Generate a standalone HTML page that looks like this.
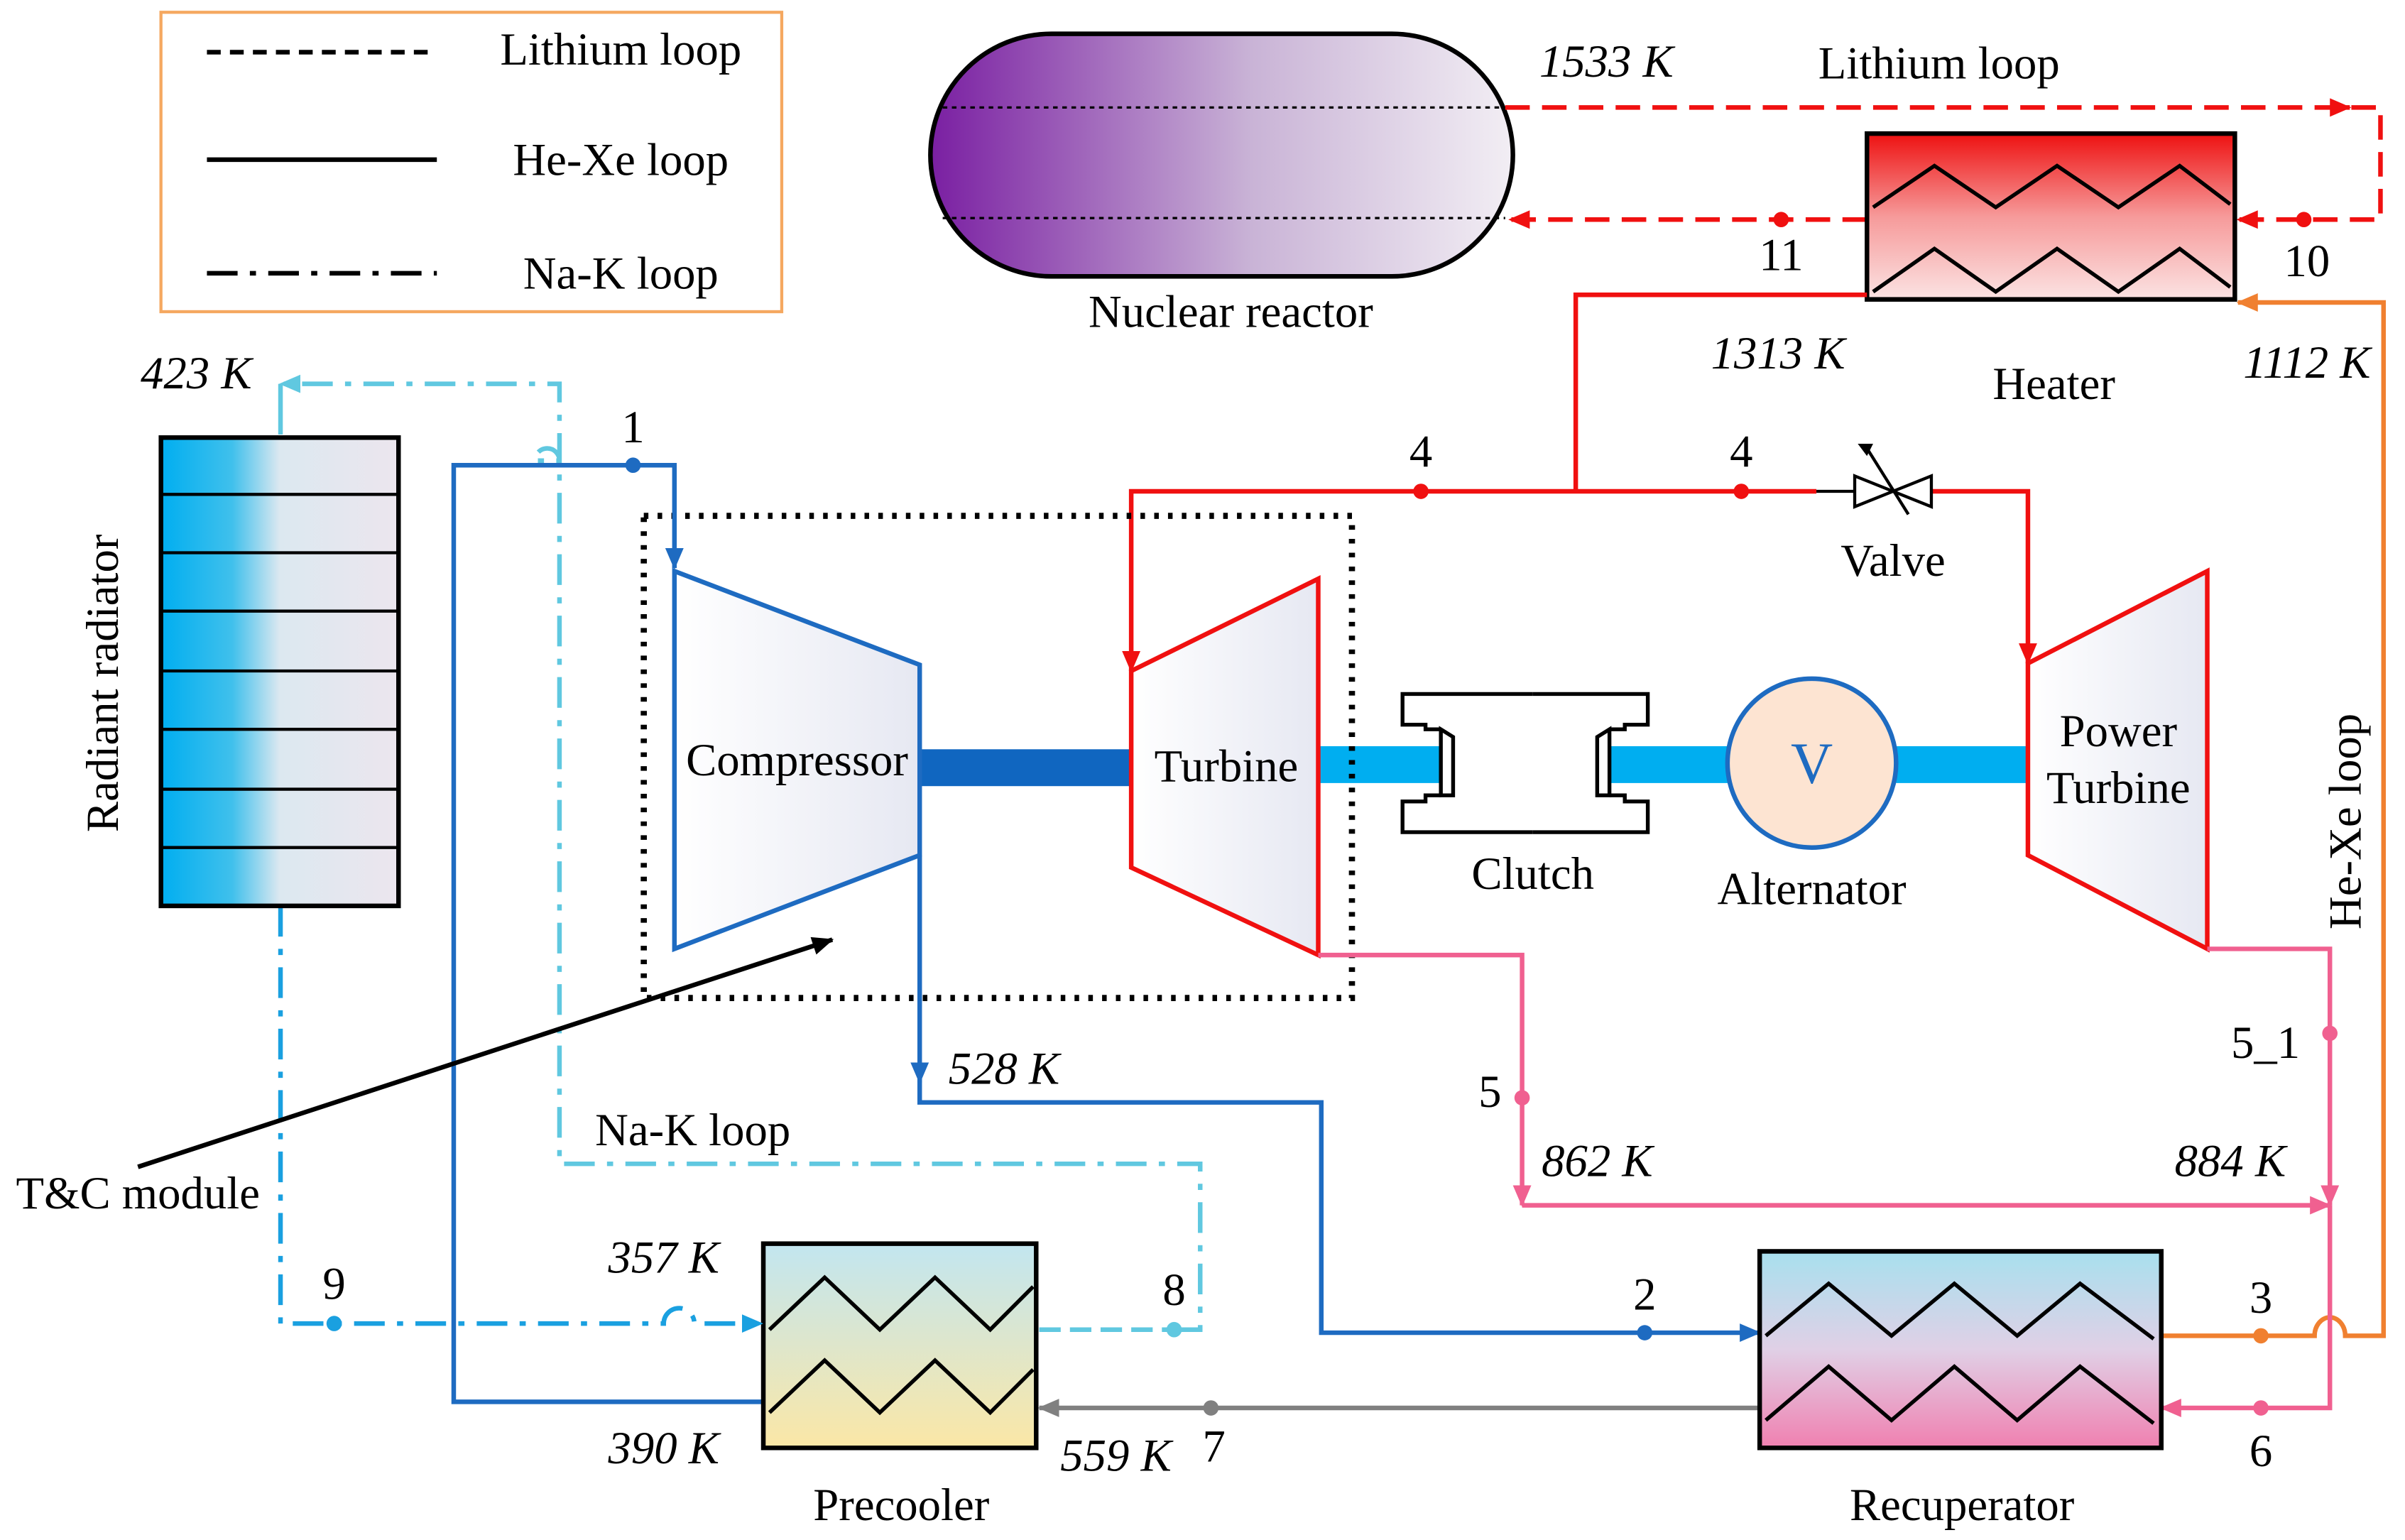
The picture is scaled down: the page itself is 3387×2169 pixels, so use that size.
<!DOCTYPE html>
<html><head><meta charset="utf-8"><style>html,body{margin:0;padding:0;background:#fff}svg{display:block}text{font-family:"Liberation Serif",serif;font-size:30px;fill:#000}.i{font-style:italic}</style></head><body>
<svg width="3387" height="2169" viewBox="0 0 1569 1003" preserveAspectRatio="none" xmlns="http://www.w3.org/2000/svg">
<defs>
<linearGradient id="rx" x1="0" x2="1"><stop offset="0" stop-color="#7a1fa2"/><stop offset="0.55" stop-color="#c9b3d6"/><stop offset="1" stop-color="#f2eef4"/></linearGradient>
<linearGradient id="ht" x1="0" y1="0" x2="0" y2="1"><stop offset="0" stop-color="#ee1111"/><stop offset="0.5" stop-color="#f69a9a"/><stop offset="1" stop-color="#fbe3e3"/></linearGradient>
<linearGradient id="pc" x1="0" y1="0" x2="0" y2="1"><stop offset="0" stop-color="#c2e6f0"/><stop offset="1" stop-color="#fbe7a6"/></linearGradient>
<linearGradient id="rc" x1="0" y1="0" x2="0" y2="1"><stop offset="0" stop-color="#a8e0ee"/><stop offset="0.5" stop-color="#e0d0e6"/><stop offset="1" stop-color="#f080b0"/></linearGradient>
<linearGradient id="rd" x1="0" x2="1"><stop offset="0" stop-color="#00aef0"/><stop offset="0.3" stop-color="#40c0ec"/><stop offset="0.5" stop-color="#dce8f0"/><stop offset="1" stop-color="#ece6ee"/></linearGradient>
<linearGradient id="tb" x1="0" x2="1"><stop offset="0" stop-color="#fff"/><stop offset="1" stop-color="#e6e8f2"/></linearGradient>
<marker id="aB" markerWidth="14" markerHeight="14" refX="13" refY="7" orient="auto" markerUnits="userSpaceOnUse" viewBox="0 0 14 14"><path d="M0,1L14,7L0,13z" fill="#1e6bc1"/></marker>
<marker id="aP" markerWidth="14" markerHeight="14" refX="13" refY="7" orient="auto" markerUnits="userSpaceOnUse" viewBox="0 0 14 14"><path d="M0,1L14,7L0,13z" fill="#f06090"/></marker>
<marker id="aO" markerWidth="14" markerHeight="14" refX="13" refY="7" orient="auto" markerUnits="userSpaceOnUse" viewBox="0 0 14 14"><path d="M0,1L14,7L0,13z" fill="#f08030"/></marker>
<marker id="aG" markerWidth="14" markerHeight="14" refX="13" refY="7" orient="auto" markerUnits="userSpaceOnUse" viewBox="0 0 14 14"><path d="M0,1L14,7L0,13z" fill="#808080"/></marker>
<marker id="aL" markerWidth="14" markerHeight="14" refX="13" refY="7" orient="auto" markerUnits="userSpaceOnUse" viewBox="0 0 14 14"><path d="M0,1L14,7L0,13z" fill="#1aa0e0"/></marker>
<marker id="aC" markerWidth="14" markerHeight="14" refX="13" refY="7" orient="auto" markerUnits="userSpaceOnUse" viewBox="0 0 14 14"><path d="M0,1L14,7L0,13z" fill="#60c8e0"/></marker>
<marker id="aK" markerWidth="14" markerHeight="14" refX="13" refY="7" orient="auto" markerUnits="userSpaceOnUse" viewBox="0 0 14 14"><path d="M0,1L14,7L0,13z" fill="#000"/></marker>
<marker id="aRR" markerWidth="14" markerHeight="14" refX="13" refY="7" orient="auto" markerUnits="userSpaceOnUse" viewBox="0 0 14 14"><path d="M0,1L14,7L0,13z" fill="#f01010"/></marker>
</defs>
<rect x="105" y="8" width="405" height="195" fill="none" stroke="#f5a860" stroke-width="2"/>
<line x1="135" y1="34" x2="285" y2="34" stroke="#000" stroke-width="3" stroke-dasharray="9,6"/>
<line x1="135" y1="104" x2="285" y2="104" stroke="#000" stroke-width="3"/>
<line x1="135" y1="178" x2="285" y2="178" stroke="#000" stroke-width="3" stroke-dasharray="20,8,4,8"/>
<text x="405" y="42" text-anchor="middle">Lithium loop</text>
<text x="405" y="114" text-anchor="middle">He-Xe loop</text>
<text x="405" y="188" text-anchor="middle">Na-K loop</text>
<rect x="607" y="22" width="380" height="158" rx="79" fill="url(#rx)" stroke="#000" stroke-width="3"/>
<line x1="615" y1="70" x2="982" y2="70" stroke="#000" stroke-width="1.5" stroke-dasharray="3,3"/>
<line x1="615" y1="142" x2="982" y2="142" stroke="#000" stroke-width="1.5" stroke-dasharray="3,3"/>
<text x="803" y="213" text-anchor="middle">Nuclear reactor</text>
<text x="1048" y="50" text-anchor="middle" class="i">1533 K</text>
<text x="1265" y="51" text-anchor="middle">Lithium loop</text>
<path d="M982,70 H1553 V143 H1460" fill="none" stroke="#f01010" stroke-width="3" stroke-dasharray="16,8" marker-end="url(#aRR)"/>
<path d="M1520,70 H1533" stroke="#f01010" stroke-width="3" marker-end="url(#aRR)"/>
<path d="M1218,143 H985" fill="none" stroke="#f01010" stroke-width="3" stroke-dasharray="16,8" marker-end="url(#aRR)"/>
<circle cx="1503" cy="143" r="5" fill="#f01010"/><circle cx="1162" cy="143" r="5" fill="#f01010"/>
<text x="1162" y="176" text-anchor="middle">11</text><text x="1505" y="180" text-anchor="middle">10</text>
<rect x="1218" y="87" width="240" height="108" fill="url(#ht)" stroke="#000" stroke-width="3"/>
<path d="M1222,135 L1262,108 L1302,135 L1342,108 L1382,135 L1422,108 L1455,133" fill="none" stroke="#000" stroke-width="2.5"/>
<path d="M1222,190 L1262,162 L1302,190 L1342,162 L1382,190 L1422,162 L1455,187" fill="none" stroke="#000" stroke-width="2.5"/>
<text x="1340" y="260" text-anchor="middle">Heater</text>
<text x="1160" y="240" text-anchor="middle" class="i">1313 K</text>
<text x="1505" y="246" text-anchor="middle" class="i">1112 K</text>
<path d="M1410,870 H1510 a10,12 0 0 1 20,0 H1555 V197 H1460" fill="none" stroke="#f08030" stroke-width="3" marker-end="url(#aO)"/>
<circle cx="1475" cy="870" r="5" fill="#f08030"/><text x="1475" y="855" text-anchor="middle">3</text>
<path d="M1218,192 H1028 V320" fill="none" stroke="#f01010" stroke-width="3"/>
<path d="M1185,320 H738 V437" fill="none" stroke="#f01010" stroke-width="3" marker-end="url(#aRR)"/>
<path d="M1260,320 H1323 V432" fill="none" stroke="#f01010" stroke-width="3" marker-end="url(#aRR)"/>
<circle cx="927" cy="320" r="5" fill="#f01010"/><circle cx="1136" cy="320" r="5" fill="#f01010"/>
<text x="927" y="304" text-anchor="middle">4</text><text x="1136" y="304" text-anchor="middle">4</text>
<path d="M1210,310 L1260,330 L1260,310 L1210,330 Z" fill="#fff" stroke="#000" stroke-width="2"/>
<line x1="1185" y1="320" x2="1210" y2="320" stroke="#000" stroke-width="2"/>
<line x1="1218" y1="292" x2="1245" y2="335" stroke="#000" stroke-width="2"/><path d="M1212,289 l10,0 l-4,8z" fill="#000"/>
<text x="1235" y="375" text-anchor="middle">Valve</text>
<rect x="600" y="488" width="138" height="24" fill="#1066c0"/>
<rect x="860" y="486" width="88" height="24" fill="#00aef0"/>
<rect x="1042" y="486" width="88" height="24" fill="#00aef0"/>
<rect x="1237" y="486" width="86" height="24" fill="#00aef0"/>
<polygon points="440,372 600,433 600,557 440,618" fill="url(#tb)" stroke="#1e6bc1" stroke-width="3"/>
<text x="520" y="505" text-anchor="middle">Compressor</text>
<polygon points="738,437 860,377 860,622 738,565" fill="url(#tb)" stroke="#f01010" stroke-width="3"/>
<text x="800" y="509" text-anchor="middle">Turbine</text>
<polygon points="1323,432 1440,372 1440,618 1323,557" fill="url(#tb)" stroke="#f01010" stroke-width="3"/>
<text x="1382" y="486" text-anchor="middle">Power</text><text x="1382" y="523" text-anchor="middle">Turbine</text>
<path d="M948,480 V518 H940 V475 Z" fill="#fff" stroke="#000" stroke-width="2.5"/>
<path d="M1042,480 V518 H1050 V475 Z" fill="#fff" stroke="#000" stroke-width="2.5"/>
<path d="M940,475 H930 V472 H915 V452 H1000" fill="none" stroke="#000" stroke-width="2.5"/>
<path d="M940,518 H930 V522 H915 V542 H1000" fill="none" stroke="#000" stroke-width="2.5"/>
<path d="M1050,475 H1060 V472 H1075 V452 H1000" fill="none" stroke="#000" stroke-width="2.5"/>
<path d="M1050,518 H1060 V522 H1075 V542 H1000" fill="none" stroke="#000" stroke-width="2.5"/>
<text x="1000" y="579" text-anchor="middle">Clutch</text>
<circle cx="1182" cy="497" r="55" fill="#fde4d2" stroke="#1e6bc1" stroke-width="3"/>
<text x="1182" y="510" text-anchor="middle" style="font-size:38px;fill:#1e6bc1">V</text>
<text x="1182" y="589" text-anchor="middle">Alternator</text>
<rect x="420" y="336" width="462" height="314" fill="none" stroke="#000" stroke-width="4" stroke-dasharray="3,6"/>
<path d="M860,622 H993 V785" fill="none" stroke="#f06090" stroke-width="3" marker-end="url(#aP)"/>
<path d="M1440,618 H1520 V785" fill="none" stroke="#f06090" stroke-width="3" marker-end="url(#aP)"/>
<path d="M993,785 H1520" fill="none" stroke="#f06090" stroke-width="3" marker-end="url(#aP)"/>
<path d="M1520,785 V917 H1410" fill="none" stroke="#f06090" stroke-width="3" marker-end="url(#aP)"/>
<circle cx="993" cy="715" r="5" fill="#f06090"/><circle cx="1520" cy="673" r="5" fill="#f06090"/><circle cx="1475" cy="917" r="5" fill="#f06090"/>
<text x="972" y="721" text-anchor="middle">5</text><text x="1478" y="689" text-anchor="middle">5_1</text><text x="1475" y="955" text-anchor="middle">6</text>
<text x="1042" y="766" text-anchor="middle" class="i">862 K</text><text x="1455" y="766" text-anchor="middle" class="i">884 K</text>
<path d="M600,557 V705" fill="none" stroke="#1e6bc1" stroke-width="3" marker-end="url(#aB)"/>
<path d="M600,700 V718 H862 V868 H1148" fill="none" stroke="#1e6bc1" stroke-width="3" marker-end="url(#aB)"/>
<circle cx="1073" cy="868" r="5" fill="#1e6bc1"/><text x="1073" y="853" text-anchor="middle">2</text>
<text x="655" y="706" text-anchor="middle" class="i">528 K</text>
<path d="M497,913 H296 V303 H440 V370" fill="none" stroke="#1e6bc1" stroke-width="3" marker-end="url(#aB)"/>
<circle cx="413" cy="303" r="5" fill="#1e6bc1"/><text x="413" y="288" text-anchor="middle">1</text>
<path d="M1148,917 H678" fill="none" stroke="#808080" stroke-width="3" marker-end="url(#aG)"/>
<circle cx="790" cy="917" r="5" fill="#808080"/><text x="792" y="952" text-anchor="middle">7</text>
<text x="728" y="958" text-anchor="middle" class="i">559 K</text>
<rect x="498" y="810" width="178" height="133" fill="url(#pc)" stroke="#000" stroke-width="3"/>
<path d="M502,866 L538,832 L574,866 L610,832 L646,866 L674,838" fill="none" stroke="#000" stroke-width="2.5"/>
<path d="M502,920 L538,886 L574,920 L610,886 L646,920 L674,892" fill="none" stroke="#000" stroke-width="2.5"/>
<text x="588" y="990" text-anchor="middle">Precooler</text>
<text x="433" y="829" text-anchor="middle" class="i">357 K</text><text x="433" y="953" text-anchor="middle" class="i">390 K</text>
<rect x="1148" y="815" width="262" height="128" fill="url(#rc)" stroke="#000" stroke-width="3"/>
<path d="M1152,870 L1193,836 L1234,870 L1275,836 L1316,870 L1357,836 L1405,872" fill="none" stroke="#000" stroke-width="2.5"/>
<path d="M1152,925 L1193,890 L1234,925 L1275,890 L1316,925 L1357,890 L1405,927" fill="none" stroke="#000" stroke-width="2.5"/>
<text x="1280" y="990" text-anchor="middle">Recuperator</text>
<path d="M678,866 H766" fill="none" stroke="#60c8e0" stroke-width="3" stroke-dasharray="14,6"/>
<path d="M766,866 H783 V758 H365 V300 a8,8 0 0 0 -16,0 H365 V250 H183" fill="none" stroke="#60c8e0" stroke-width="3" stroke-dasharray="20,8,4,8" marker-end="url(#aC)"/>
<path d="M183,250 V283" fill="none" stroke="#60c8e0" stroke-width="3"/>
<circle cx="766" cy="866" r="5" fill="#60c8e0"/><text x="766" y="850" text-anchor="middle">8</text>
<text x="452" y="746" text-anchor="middle">Na-K loop</text>
<text x="128" y="253" text-anchor="middle" class="i">423 K</text>
<path d="M183,590 V862 H433 a10,10 0 0 1 20,0 H497" fill="none" stroke="#1aa0e0" stroke-width="3" stroke-dasharray="20,8,4,8" marker-end="url(#aL)"/>
<circle cx="218" cy="862" r="5" fill="#1aa0e0"/><text x="218" y="846" text-anchor="middle">9</text>
<rect x="105" y="285" width="155" height="305" fill="url(#rd)" stroke="#000" stroke-width="3"/>
<g stroke="#000" stroke-width="2"><line x1="105" y1="322" x2="260" y2="322"/><line x1="105" y1="360" x2="260" y2="360"/><line x1="105" y1="398" x2="260" y2="398"/><line x1="105" y1="437" x2="260" y2="437"/><line x1="105" y1="475" x2="260" y2="475"/><line x1="105" y1="514" x2="260" y2="514"/><line x1="105" y1="552" x2="260" y2="552"/></g>
<text transform="translate(77,445) rotate(-90)" text-anchor="middle">Radiant radiator</text>
<text transform="translate(1540,535) rotate(-90)" text-anchor="middle">He-Xe loop</text>
<line x1="90" y1="760" x2="543" y2="612" stroke="#000" stroke-width="3" marker-end="url(#aK)"/>
<text x="90" y="787" text-anchor="middle">T&amp;C module</text>
</svg>
</body></html>
